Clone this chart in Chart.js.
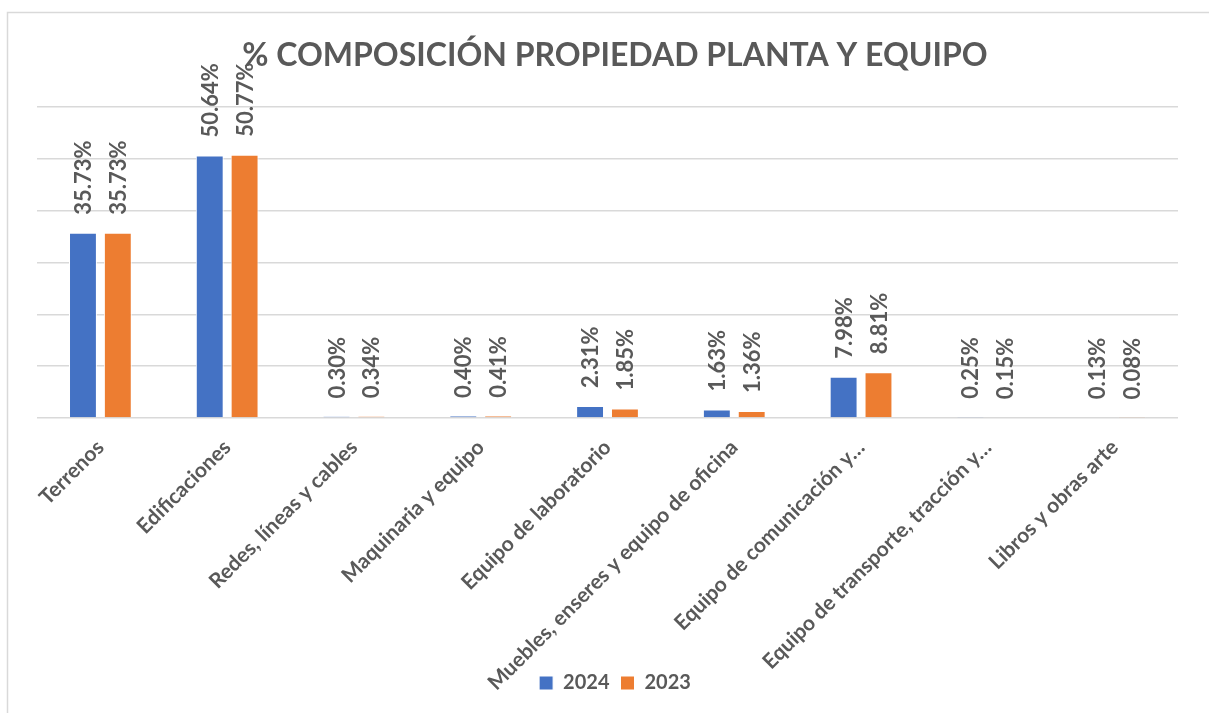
<!DOCTYPE html>
<html>
<head>
<meta charset="utf-8">
<script src="https://cdn.jsdelivr.net/npm/chart.js@4.4.1/dist/chart.umd.min.js"></script>
<style>
  html, body { margin: 0; padding: 0; background: #fff; }
  #wrap { width: 1209px; height: 713px; }
</style>
</head>
<body>
<div id="wrap"><canvas id="compChart"></canvas></div>
<script>
// categorias y valores (% del total)
const categories = [
  'Terrenos',
  'Edificaciones',
  'Redes, líneas y cables',
  'Maquinaria y equipo',
  'Equipo de laboratorio',
  'Muebles, enseres y equipo de oficina',
  'Equipo de comunicación y…',
  'Equipo de transporte, tracción y…',
  'Libros y obras arte'
];
const values2024 = [35.73, 50.64, 0.30, 0.40, 2.31, 1.63, 7.98, 0.25, 0.13];
const values2023 = [35.73, 50.77, 0.34, 0.41, 1.85, 1.36, 8.81, 0.15, 0.08];
const yTicks = [0, 10, 20, 30, 40, 50, 60];

const textColor = '#595959';
const gridColor = '#d9d9d9';

// marco gris del grafico
const framePlugin = {
  id: 'frame',
  beforeDraw(chart) {
    const ctx = chart.ctx;
    ctx.save();
    ctx.strokeStyle = gridColor;
    ctx.lineWidth = 1.5;
    ctx.beginPath();
    ctx.moveTo(7.5, chart.height);
    ctx.lineTo(7.5, 12.5);
    ctx.lineTo(chart.width, 12.5);
    ctx.stroke();
    ctx.restore();
  }
};

// las etiquetas largas del eje x pasan por debajo de la leyenda, como en Excel
const noLabelClip = {
  id: 'noLabelClip',
  afterLayout(chart) {
    chart.scales.x.bottom = chart.height;
  }
};

// etiquetas verticales sobre cada barra
const barLabels = {
  id: 'barLabels',
  afterDatasetsDraw(chart) {
    const ctx = chart.ctx;
    ctx.save();
    ctx.fillStyle = textColor;
    ctx.font = 'bold 22px Lato';
    ctx.textAlign = 'left';
    ctx.textBaseline = 'middle';
    chart.data.datasets.forEach((ds, i) => {
      chart.getDatasetMeta(i).data.forEach((bar, j) => {
        ctx.save();
        ctx.translate(bar.x + 1, bar.y - 18);
        ctx.rotate(-Math.PI / 2);
        ctx.fillText(ds.data[j].toFixed(2) + '%', 0, 0);
        ctx.restore();
      });
    });
    ctx.restore();
  }
};

const ctx = document.getElementById('compChart').getContext('2d');
const compChart = new Chart(ctx, {
  type: 'bar',
  data: {
    labels: categories,
    datasets: [{
      label: '2024',
      data: values2024,
      backgroundColor: '#4472C4',
      borderColor: '#ffffff',
      borderWidth: 1,
      categoryPercentage: 0.55,
      barPercentage: 0.8
    }, {
      label: '2023',
      data: values2023,
      backgroundColor: '#ED7D31',
      borderColor: '#ffffff',
      borderWidth: 1,
      categoryPercentage: 0.55,
      barPercentage: 0.8
    }]
  },
  options: {
    responsive: true,
    maintainAspectRatio: false,
    animation: false,
    layout: { padding: { left: 37, right: 16, top: 0, bottom: 10 } },
    plugins: {
      title: {
        display: true,
        text: '% COMPOSICIÓN PROPIEDAD PLANTA Y EQUIPO',
        color: textColor,
        font: { family: 'Lato', size: 32, weight: 'bold' },
        padding: { top: 36, bottom: 32.6 }
      },
      legend: {
        position: 'bottom',
        labels: {
          color: textColor,
          font: { family: 'Lato', size: 20, weight: 'bold' },
          boxWidth: 14,
          boxHeight: 14,
          padding: 11
        }
      },
      tooltip: { enabled: false }
    },
    scales: {
      x: {
        grid: { display: false, drawTicks: false },
        border: { display: false },
        ticks: {
          color: textColor,
          font: { family: 'Lato', size: 21, weight: 'bold' },
          minRotation: 45,
          maxRotation: 45,
          autoSkip: false,
          padding: 17
        },
        afterFit(scale) { scale.height = 244; }
      },
      y: {
        min: 0,
        max: 60,
        afterBuildTicks(scale) { scale.ticks = yTicks.map(v => ({ value: v })); },
        grid: { color: gridColor, lineWidth: 1.5, drawTicks: false },
        border: { display: false },
        ticks: { display: false }
      },
      // eje vacio a la derecha: solo deja el margen del area de trazado
      yRight: {
        type: 'linear',
        position: 'right',
        grid: { display: false, drawTicks: false },
        border: { display: false },
        ticks: { display: false },
        afterFit(scale) { scale.width = 15; }
      }
    }
  },
  plugins: [framePlugin, noLabelClip, barLabels]
});
</script>
</body>
</html>
